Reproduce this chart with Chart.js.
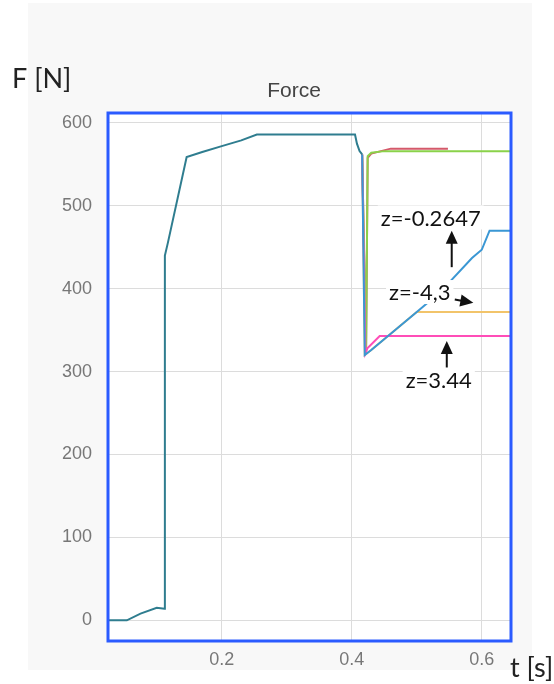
<!DOCTYPE html>
<html lang="en">
<head>
<meta charset="UTF-8">
<title>Force</title>
<script src="https://cdn.jsdelivr.net/npm/chart.js"></script>
<style>
  html, body { margin: 0; padding: 0; background: #fff; }
  #wrap { width: 554px; height: 684px; }
</style>
</head>
<body>
<div id="wrap"><canvas id="forceChart" width="554" height="684"></canvas></div>
<script>
// time [s] and force [N] for each run
// shared loading phase up to the drop
const baseT = [0.025, 0.054, 0.075, 0.1, 0.112, 0.1125, 0.117, 0.146, 0.17, 0.2, 0.23, 0.254, 0.405, 0.408, 0.412, 0.416];
const baseF = [0, 0, 8, 15, 14, 440, 455, 559, 565, 572, 579, 586, 586, 575, 566, 562];

const blueT = [0.416, 0.420, 0.43, 0.5, 0.535, 0.585, 0.6, 0.612, 0.645];
const blueF = [562, 320, 326, 372, 395, 437, 447, 470, 470];

const yellowT = [0.416, 0.420, 0.43, 0.5, 0.645];
const yellowF = [562, 320, 326, 372, 372];

const pinkT = [0.416, 0.421, 0.424, 0.443, 0.645];
const pinkF = [562, 322, 328, 343, 343];

const greenT = [0.416, 0.422, 0.4245, 0.43, 0.45, 0.645];
const greenF = [562, 322, 560, 564, 566, 566];

const redT = [0.416, 0.422, 0.4245, 0.43, 0.46, 0.548];
const redF = [562, 322, 558, 563, 569, 569];

const yTicks = [0, 100, 200, 300, 400, 500, 600];
const xTicks = [0.2, 0.4, 0.6];

// labels next to the curves (text centre and arrow, in t / F units)
const notes = [
  { text: 'z=-0.2647', t: 0.5215, f: 486, arrow: [0.5538, 426, 0.5538, 470] },
  { text: 'z=-4,3',    t: 0.5046, f: 396, arrow: [0.5585, 387, 0.5870, 383] },
  { text: 'z=3.44',    t: 0.5338, f: 290, arrow: [0.5462, 305, 0.5462, 337] }
];

function pts(ts, fs) {
  return ts.map((t, i) => ({ x: t, y: fs[i] }));
}

function series(ts, fs, color) {
  return {
    data: pts(ts, fs),
    borderColor: color,
    borderWidth: 2,
    pointRadius: 0,
    tension: 0,
    fill: false
  };
}

const frame = {
  id: 'frame',
  beforeDraw(chart) {
    const ctx = chart.ctx;
    const a = chart.chartArea;
    ctx.save();
    ctx.fillStyle = '#ffffff';
    ctx.fillRect(0, 0, chart.width, chart.height);
    ctx.fillStyle = '#f8f8f8';
    ctx.fillRect(28, 3, 504, 667);
    ctx.fillStyle = '#ffffff';
    ctx.fillRect(a.left, a.top, a.right - a.left, a.bottom - a.top);

    // chart title
    ctx.fillStyle = '#444';
    ctx.font = '21px Arial, "Liberation Sans", sans-serif';
    ctx.textAlign = 'center';
    ctx.textBaseline = 'middle';
    ctx.fillText('Force', 294, 91);
    ctx.restore();
  },
  afterDraw(chart) {
    const ctx = chart.ctx;
    const a = chart.chartArea;
    const xs = chart.scales.x, ys = chart.scales.y;
    ctx.save();
    ctx.strokeStyle = '#2b5bff';
    ctx.lineWidth = 3;
    ctx.strokeRect(a.left, a.top, a.right - a.left, a.bottom - a.top);

    // axis names
    ctx.fillStyle = '#222';
    ctx.font = '27px Lato, "Open Sans", sans-serif';
    ctx.textBaseline = 'middle';
    ctx.textAlign = 'left';
    ctx.fillText('F [N]', 12, 79);
    ctx.fillText('t [s]', 510, 668);

    // curve labels
    ctx.font = '22px Lato, "Open Sans", sans-serif';
    ctx.textAlign = 'center';
    notes.forEach(n => {
      const cx = xs.getPixelForValue(n.t);
      const cy = ys.getPixelForValue(n.f);
      const w = ctx.measureText(n.text).width;
      ctx.fillStyle = '#ffffff';
      ctx.fillRect(cx - w / 2 - 3, cy - 12, w + 6, 24);
      ctx.fillStyle = '#111';
      ctx.fillText(n.text, cx, cy + 1);

      const x0 = xs.getPixelForValue(n.arrow[0]), y0 = ys.getPixelForValue(n.arrow[1]);
      const x1 = xs.getPixelForValue(n.arrow[2]), y1 = ys.getPixelForValue(n.arrow[3]);
      const ang = Math.atan2(y1 - y0, x1 - x0);
      const c = Math.cos(ang), s = Math.sin(ang);
      ctx.strokeStyle = '#111';
      ctx.lineWidth = 2;
      ctx.beginPath();
      ctx.moveTo(x0, y0);
      ctx.lineTo(x1 - 8 * c, y1 - 8 * s);
      ctx.stroke();
      ctx.beginPath();
      ctx.moveTo(x1, y1);
      ctx.lineTo(x1 - 13 * c + 6 * s, y1 - 13 * s - 6 * c);
      ctx.lineTo(x1 - 13 * c - 6 * s, y1 - 13 * s + 6 * c);
      ctx.closePath();
      ctx.fillStyle = '#111';
      ctx.fill();
    });
    ctx.restore();
  }
};

new Chart(document.getElementById('forceChart'), {
  type: 'line',
  data: {
    datasets: [
      series(baseT, baseF, '#2f7d8f'),
      series(blueT, blueF, '#3a97d4'),
      series(pinkT, pinkF, '#ff4db8'),
      series(greenT, greenF, '#8ad24a'),
      series(redT, redF, '#d4596a'),
      series(yellowT, yellowF, '#f2c46a')
    ]
  },
  options: {
    responsive: false,
    animation: false,
    layout: { padding: { left: 0, right: 43, top: 113, bottom: 0 } },
    plugins: {
      legend: { display: false },
      tooltip: { enabled: false },
      title: { display: false }
    },
    scales: {
      x: {
        type: 'linear',
        min: 0.025,
        max: 0.645,
        bounds: 'data',
        afterFit(scale) { scale.height = 43; },
        afterBuildTicks(scale) { scale.ticks = xTicks.map(v => ({ value: v })); },
        ticks: {
          color: '#777',
          padding: 8,
          maxRotation: 0,
          font: { family: 'Arial, "Liberation Sans", sans-serif', size: 18 },
          callback: v => String(v)
        },
        grid: { color: '#dcdcdc', lineWidth: 1, drawTicks: false },
        border: { display: false }
      },
      y: {
        min: -25,
        max: 612,
        bounds: 'data',
        afterFit(scale) { scale.width = 108; },
        afterBuildTicks(scale) { scale.ticks = yTicks.map(v => ({ value: v })); },
        ticks: {
          color: '#777',
          padding: 16,
          font: { family: 'Arial, "Liberation Sans", sans-serif', size: 18 }
        },
        grid: { color: '#dcdcdc', lineWidth: 1, drawTicks: false },
        border: { display: false }
      }
    }
  },
  plugins: [frame]
});
</script>
</body>
</html>
